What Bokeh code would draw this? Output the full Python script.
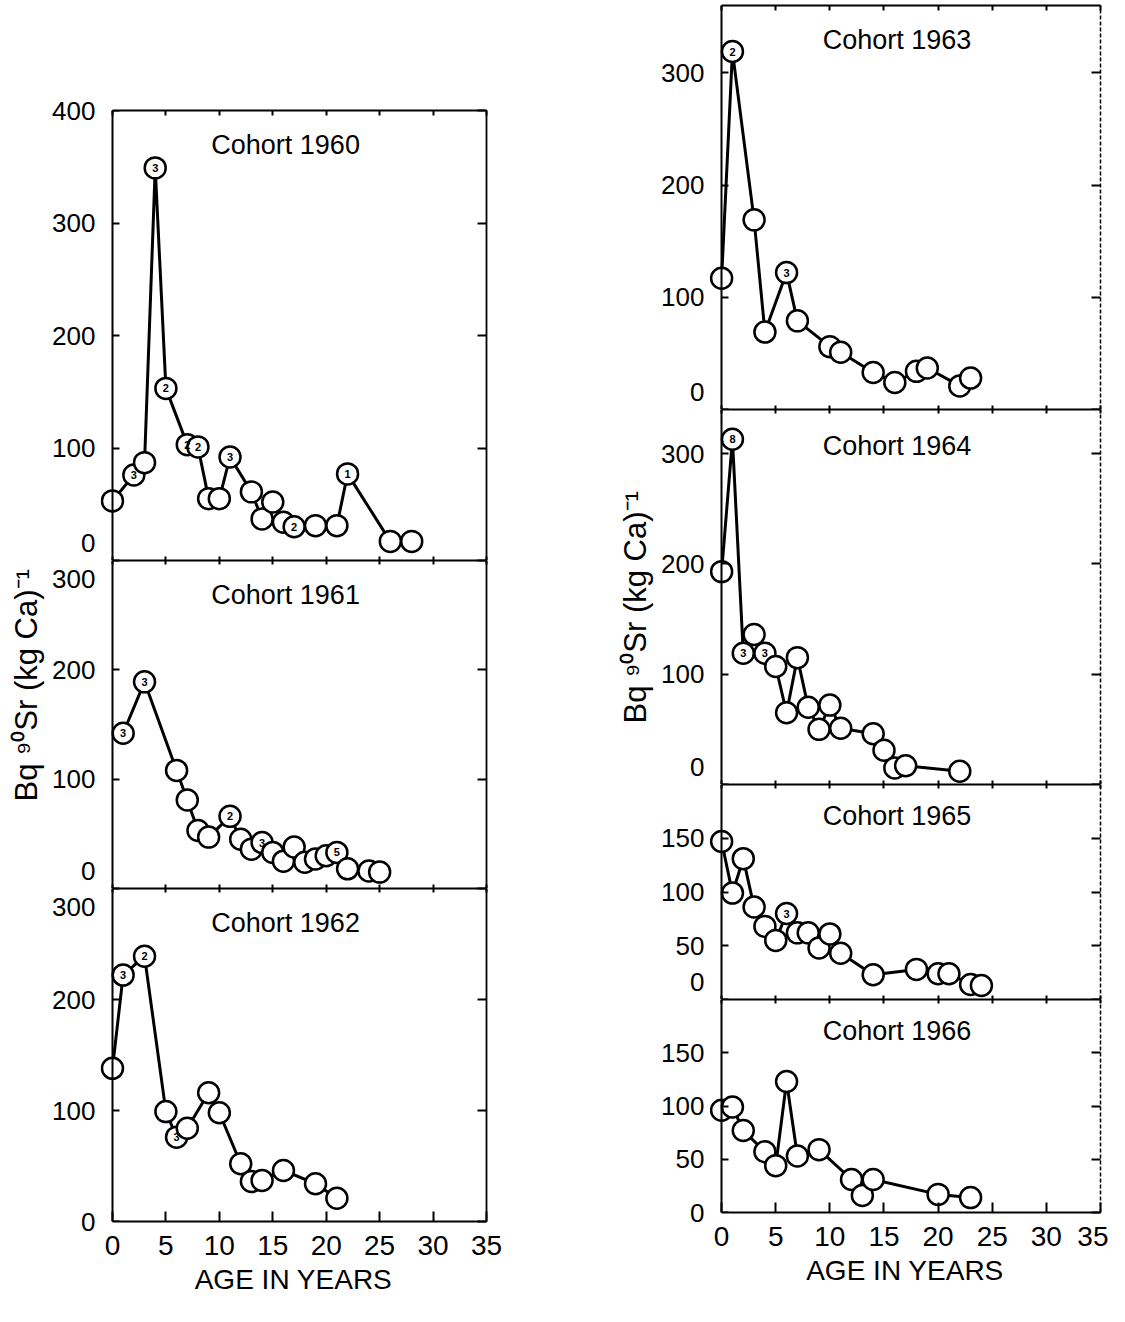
import math
from bokeh.plotting import figure
from bokeh.layouts import row, column
from bokeh.models import (Range1d, LinearAxis, Label, FixedTicker, ColumnDataSource,
                          CDSView, IndexFilter, Title)
from bokeh.core.properties import value
from bokeh.embed import file_html
from bokeh.resources import INLINE

FONT = "Liberation Sans"

# ---------------- data ----------------
age_ticks = [0, 5, 10, 15, 20, 25, 30, 35]

age_1960 = [0, 2, 3, 4, 5, 7, 8, 9, 10, 11, 13, 14, 15, 16, 17, 19, 21, 22, 26, 28]
bq_1960 = [53, 76, 87, 349, 153, 103, 101, 55, 55, 92, 61, 37, 52, 34, 30, 31, 31, 77, 17, 17]
n_1960 = ["", "3", "", "3", "2", "2", "2", "", "", "3", "", "", "", "", "2", "", "", "1", "", ""]

age_1961 = [1, 3, 6, 7, 8, 9, 11, 12, 13, 14, 15, 16, 17, 18, 19, 20, 21, 22, 24, 25]
bq_1961 = [142, 189, 108, 81, 53, 47, 66, 45, 36, 42, 33, 25, 38, 24, 27, 30, 33, 18, 16, 15]
n_1961 = ["3", "3", "", "", "", "", "2", "", "", "3", "", "", "", "", "", "", "5", "", "", ""]

age_1962 = [0, 1, 3, 5, 6, 7, 9, 10, 12, 13, 14, 16, 19, 21]
bq_1962 = [138, 222, 239, 99, 76, 84, 116, 98, 52, 36, 37, 46, 34, 21]
n_1962 = ["", "3", "2", "", "3", "", "", "", "", "", "", "", "", ""]

age_1963 = [0, 1, 3, 4, 6, 7, 10, 11, 14, 16, 18, 19, 22, 23]
bq_1963 = [117, 319, 169, 69, 122, 79, 56, 51, 33, 24, 34, 37, 21, 28]
n_1963 = ["", "2", "", "", "3", "", "", "", "", "", "", "", "", ""]

age_1964 = [0, 1, 2, 3, 4, 5, 6, 7, 8, 9, 10, 11, 14, 15, 16, 17, 22]
bq_1964 = [193, 313, 119, 136, 119, 107, 65, 115, 70, 50, 72, 51, 46, 31, 15, 17, 12]
n_1964 = ["", "8", "3", "", "3", "", "", "", "", "", "", "", "", "", "", "", ""]

age_1965 = [0, 1, 2, 3, 4, 5, 6, 7, 8, 9, 10, 11, 14, 18, 20, 21, 23, 24]
bq_1965 = [147, 99, 131, 86, 68, 55, 80, 62, 62, 48, 61, 43, 23, 28, 24, 24, 14, 13]
n_1965 = ["", "", "", "", "", "", "3", "", "", "", "", "", "", "", "", "", "", ""]

age_1966 = [0, 1, 2, 4, 5, 6, 7, 9, 12, 13, 14, 20, 23]
bq_1966 = [96, 99, 77, 57, 44, 123, 53, 59, 31, 16, 31, 17, 14]
n_1966 = ["", "", "", "", "", "", "", "", "", "", "", "", ""]

ticks_400 = [0, 100, 200, 300, 400]
ticks_300 = [0, 100, 200, 300]
ticks_150 = [0, 50, 100, 150]

Y_LABEL = "Bq \u2079\u2070Sr (kg Ca)\u207b\u00b9"
X_LABEL = "AGE IN YEARS"

XPAD = 1.12  # room left of age 0 so that the circles at age 0 are whole


def base_axis(ax, tick_in, lw=2, dash=None, line=True):
    ax.major_tick_in = tick_in
    ax.major_tick_out = 0
    ax.minor_tick_line_color = None
    ax.axis_line_color = "black" if line else None
    ax.major_tick_line_color = "black" if line else None
    ax.axis_line_width = lw
    ax.major_tick_line_width = 2
    if dash:
        ax.axis_line_dash = dash
    ax.major_label_text_font = FONT
    ax.major_label_text_color = None  # no labels (takes no room)
    ax.major_label_standoff = 0


def make_panel(age, bq, n, ytop, yticks, title, title_y, fw, fh, bl, br, bt, bb,
               top_tick, bottom, overrides, right_dash, ylabel_offset=None):
    p = figure(frame_width=fw, frame_height=fh,
               x_range=Range1d(-XPAD, 35), y_range=Range1d(0, ytop),
               output_backend="svg", toolbar_location=None,
               min_border_left=bl, min_border_right=br,
               min_border_top=bt, min_border_bottom=bb,
               outline_line_color=None,
               background_fill_color="white", border_fill_color="white")
    p.grid.visible = False

    # left axis: labels only (sits at the frame edge)
    ya = p.left[0]
    ya.ticker = FixedTicker(ticks=yticks)
    base_axis(ya, 0, line=False)
    ya.major_label_text_color = "black"
    ya.major_label_text_font_size = "26px"
    ya.major_label_text_line_height = 0.1
    ya.major_label_standoff = 5
    if overrides:
        ya.major_label_overrides = overrides

    # left axis line and ticks at age 0
    yl = LinearAxis(ticker=FixedTicker(ticks=yticks), fixed_location=0)
    base_axis(yl, 7)
    p.add_layout(yl, "left")

    if ylabel_offset is not None:
        p.add_layout(Title(text=Y_LABEL, align="left", offset=ylabel_offset,
                           text_font=FONT, text_font_size="31px", text_font_style="normal",
                           text_color="black", standoff=12), "left")

    # bottom axis
    xa = p.below[0]
    xa.ticker = FixedTicker(ticks=age_ticks)
    xa.bounds = (0, 35)
    if bottom:
        base_axis(xa, 10)
        xa.major_label_text_color = "black"
        xa.major_label_text_font_size = "28px"
        xa.major_label_standoff = 14
        xa.axis_label = X_LABEL
        xa.axis_label_text_font = FONT
        xa.axis_label_text_font_size = "28px"
        xa.axis_label_text_font_style = "normal"
        xa.axis_label_text_color = "black"
        xa.axis_label_standoff = 6
    else:
        base_axis(xa, 4)

    # top axis
    ta = LinearAxis(ticker=FixedTicker(ticks=age_ticks), bounds=(0, 35))
    base_axis(ta, top_tick)
    p.add_layout(ta, "above")

    # right axis
    ra = LinearAxis(ticker=FixedTicker(ticks=yticks))
    base_axis(ra, 9, lw=(1.5 if right_dash else 1.8), dash=("4 2" if right_dash else None))
    p.add_layout(ra, "right")

    src = ColumnDataSource(dict(age=age, bq=bq, n=n))
    p.line("age", "bq", source=src, line_color="black", line_width=3)
    p.scatter("age", "bq", source=src, marker="circle", size=21,
              fill_color="white", line_color="black", line_width=2.5)
    keep = [i for i, s in enumerate(n) if s]
    if keep:
        p.text("age", "bq", text="n", source=src, view=CDSView(filter=IndexFilter(keep)),
               text_align="center", text_baseline="middle",
               text_font=value(FONT), text_font_size="11px", text_font_style="bold",
               text_color="black")

    p.add_layout(Label(x=16.2, y=title_y, text=title, text_align="center", text_baseline="middle",
                       text_font=FONT, text_font_size="27px", text_color="black"))
    return p


LW, LBL, LBR = 386, 99, 75
RW, RBL, RBR = 391, 148, 8

p60 = make_panel(age_1960, bq_1960, n_1960, 400, ticks_400, "Cohort 1960", 369,
                 LW, 450, LBL, LBR, 110, 0, 5, False, {0: "0\n"}, False)
p61 = make_panel(age_1961, bq_1961, n_1961, 300, ticks_300, "Cohort 1961", 268,
                 LW, 328, LBL, LBR, 0, 0, 4, False, {0: "0\n", 300: "\n300"}, False,
                 ylabel_offset=87)
p62 = make_panel(age_1962, bq_1962, n_1962, 300, ticks_300, "Cohort 1962", 269,
                 LW, 333, LBL, LBR, 0, 85, 4, True, {300: "\n300"}, False)

p63 = make_panel(age_1963, bq_1963, n_1963, 360, ticks_300, "Cohort 1963", 329,
                 RW, 404, RBL, RBR, 5, 0, 5, False, {0: "0\n"}, True)
p64 = make_panel(age_1964, bq_1964, n_1964, 340, ticks_300, "Cohort 1964", 307,
                 RW, 375, RBL, RBR, 0, 0, 4, False, {0: "0\n"}, True,
                 ylabel_offset=61)
p65 = make_panel(age_1965, bq_1965, n_1965, 200, ticks_150, "Cohort 1965", 171,
                 RW, 215, RBL, RBR, 0, 0, 4, False, {0: "0\n"}, True)
p66 = make_panel(age_1966, bq_1966, n_1966, 200, ticks_150, "Cohort 1966", 170,
                 RW, 213, RBL, RBR, 0, 89, 4, True, None, True)

layout = row(column(p60, p61, p62), column(p63, p64, p65, p66))

open("out.html", "w").write(file_html(layout, INLINE))
